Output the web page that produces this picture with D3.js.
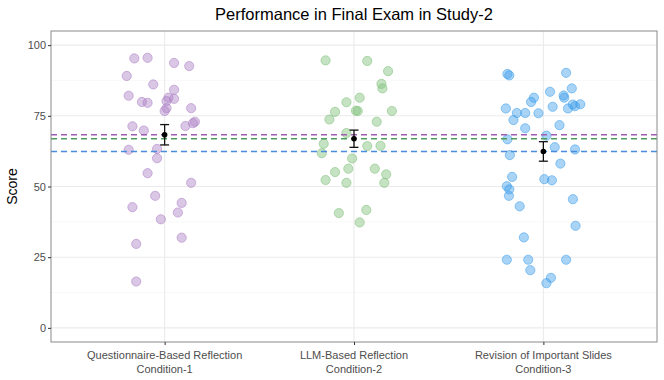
<!DOCTYPE html>
<html>
<head>
<meta charset="utf-8">
<script src="https://cdn.jsdelivr.net/npm/d3@7"></script>
<style>
  body { margin: 0; background: #fff; }
  svg { font-family: "Liberation Sans", Arial, sans-serif; }
</style>
</head>
<body>
<svg id="chart" width="664" height="380"></svg>
<script>
const conditions = ['Questionnaire-Based Reflection', 'LLM-Based Reflection', 'Revision of Important Slides'];
const conditionTags = ['Condition-1', 'Condition-2', 'Condition-3'];

// scores, with each point's horizontal jitter (in category steps)
const scores1 = [95.3, 95.5, 93.7, 92.6, 89.1, 86.1, 84.2, 82.1, 79.9, 79.6, 81.4, 81.0, 80.2, 77.7, 76.7, 77.7, 71.3,
  69.8, 71.4, 72.4, 72.9, 63.0, 63.3, 60.0, 54.7, 51.3, 46.7, 42.7, 44.2, 40.8, 38.4, 31.9, 29.7, 16.4];
const jitter1 = [-0.16, -0.09, 0.05, 0.13, -0.20, -0.06, 0.05, -0.19, -0.12, -0.09, 0.02, 0.05, 0.01, 0.01, 0.0, 0.14, -0.17,
  -0.11, 0.11, 0.15, 0.16, -0.19, -0.04, -0.04, -0.09, 0.14, -0.05, -0.17, 0.09, 0.07, -0.02, 0.09, -0.15, -0.15];

const scores2 = [94.6, 94.4, 90.8, 86.3, 84.7, 81.4, 79.8, 76.4, 76.8, 76.7, 76.7, 73.7, 72.9, 68.9, 65.1, 61.8, 64.3,
  64.4, 59.9, 56.3, 56.3, 55.1, 54.3, 52.3, 51.3, 51.3, 40.6, 41.7, 37.3];
const jitter2 = [-0.15, 0.07, 0.18, 0.145, 0.15, 0.03, -0.04, -0.10, 0.01, 0.02, 0.20, -0.13, 0.12, -0.04, -0.16, -0.17, 0.07,
  0.14, -0.01, -0.03, 0.11, -0.10, 0.17, -0.15, -0.04, 0.16, -0.08, 0.065, 0.03];

const scores3 = [89.8, 89.3, 90.2, 83.5, 84.7, 81.4, 79.9, 82.2, 81.4, 77.6, 76.0, 76.0, 75.9, 78.2, 77.6, 79.0, 78.4,
  79.1, 73.5, 71.7, 70.6, 68.0, 66.7, 63.9, 63.1, 61.1, 58.1, 53.4, 52.6, 52.2, 50.1, 49.0, 46.7, 43.0, 45.5, 36.1,
  32.0, 24.1, 24.1, 24.1, 20.4, 17.7, 15.8];
const jitter3 = [-0.19, -0.18, 0.12, 0.035, 0.15, -0.05, -0.065, 0.107, 0.11, -0.198, -0.14, -0.096, -0.026, 0.049, 0.13, 0.155, 0.167,
  0.195, -0.158, 0.085, -0.096, 0.016, -0.19, 0.06, 0.167, -0.177, 0.09, -0.165, 0.005, 0.045, -0.193, -0.18, -0.182, -0.125, 0.156, 0.17,
  -0.103, -0.193, -0.08, 0.12, -0.069, 0.04, 0.016];

const means = [68.3, 66.9, 62.4];
const stdErrors = [3.6, 3.05, 3.45];
const yTicks = [0, 25, 50, 75, 100];
const yMinor = [12.5, 37.5, 62.5, 87.5];

const pointColors = ['#ad81c5', '#7fc17b', '#419feb'];
const lineColors = ['#a15db3', '#4f9d5d', '#4a8ddc'];

const groups = [
  { scores: scores1, jitter: jitter1 },
  { scores: scores2, jitter: jitter2 },
  { scores: scores3, jitter: jitter3 }
];

const margin = { top: 31, right: 7, bottom: 38, left: 51 };
const width = 664, height = 380;
const svg = d3.select('#chart');

const x = d3.scalePoint().domain(conditions).range([margin.left, width - margin.right]).padding(0.6);
const y = d3.scaleLinear().domain([-5, 105]).range([height - margin.bottom, margin.top]);

// grid
const grid = svg.append('g');
grid.selectAll('.minor').data(yMinor).join('line')
  .attr('x1', margin.left).attr('x2', width - margin.right)
  .attr('y1', d => y(d)).attr('y2', d => y(d))
  .attr('stroke', '#f4f4f4').attr('stroke-width', 0.6);
grid.selectAll('.major').data(yTicks).join('line')
  .attr('x1', margin.left).attr('x2', width - margin.right)
  .attr('y1', d => y(d)).attr('y2', d => y(d))
  .attr('stroke', '#ebebeb').attr('stroke-width', 1.1);
grid.selectAll('.vmajor').data(conditions).join('line')
  .attr('x1', d => x(d)).attr('x2', d => x(d))
  .attr('y1', margin.top).attr('y2', height - margin.bottom)
  .attr('stroke', '#ebebeb').attr('stroke-width', 1.1);

// jittered points
groups.forEach((g, i) => {
  svg.append('g').selectAll('circle')
    .data(g.scores)
    .join('circle')
    .attr('cx', (d, j) => x(conditions[i]) + g.jitter[j] * x.step())
    .attr('cy', d => y(d))
    .attr('r', 4.6)
    .attr('fill', pointColors[i])
    .attr('fill-opacity', 0.45)
    .attr('stroke', pointColors[i])
    .attr('stroke-opacity', 0.7)
    .attr('stroke-width', 0.8);
});

// mean lines
svg.append('g').selectAll('line')
  .data(means)
  .join('line')
  .attr('x1', margin.left).attr('x2', width - margin.right)
  .attr('y1', d => y(d)).attr('y2', d => y(d))
  .attr('stroke', (d, i) => lineColors[i])
  .attr('stroke-width', 1.5)
  .attr('stroke-dasharray', '6,4');

// error bars
const eb = svg.append('g').attr('stroke', '#111').attr('stroke-width', 1.3);
means.forEach((m, i) => {
  const cx = x(conditions[i]);
  const top = y(m + stdErrors[i]), bot = y(m - stdErrors[i]);
  eb.append('line').attr('x1', cx).attr('x2', cx).attr('y1', top).attr('y2', bot);
  eb.append('line').attr('x1', cx - 4.5).attr('x2', cx + 4.5).attr('y1', top).attr('y2', top);
  eb.append('line').attr('x1', cx - 4.5).attr('x2', cx + 4.5).attr('y1', bot).attr('y2', bot);
});
svg.append('g').selectAll('circle')
  .data(means)
  .join('circle')
  .attr('cx', (d, i) => x(conditions[i]))
  .attr('cy', d => y(d))
  .attr('r', 2.8)
  .attr('fill', '#000');

// panel border
svg.append('rect')
  .attr('x', margin.left).attr('y', margin.top)
  .attr('width', width - margin.left - margin.right)
  .attr('height', height - margin.top - margin.bottom)
  .attr('fill', 'none').attr('stroke', '#8a8a8a').attr('stroke-width', 1);

// axes
const yAxis = svg.append('g')
  .attr('transform', `translate(${margin.left},0)`)
  .call(d3.axisLeft(y).tickValues(yTicks).tickSize(3).tickPadding(2));
yAxis.select('.domain').remove();
yAxis.selectAll('.tick line').attr('stroke', '#333');
yAxis.selectAll('.tick text').attr('fill', '#4d4d4d').style('font-size', '11px');

const xAxis = svg.append('g')
  .attr('transform', `translate(0,${height - margin.bottom})`)
  .call(d3.axisBottom(x).tickSize(3).tickFormat(''));
xAxis.select('.domain').remove();
xAxis.selectAll('.tick line').attr('stroke', '#333');

const xLabels = svg.append('g').attr('fill', '#4d4d4d').style('font-size', '11px').attr('text-anchor', 'middle');
conditions.forEach((c, i) => {
  xLabels.append('text').attr('x', x(c)).attr('y', 359).text(c);
  xLabels.append('text').attr('x', x(c)).attr('y', 373).text(conditionTags[i]);
});

// titles
svg.append('text')
  .attr('x', (margin.left + width - margin.right) / 2)
  .attr('y', 19.5)
  .attr('text-anchor', 'middle')
  .style('font-size', '16.5px')
  .attr('fill', '#000')
  .text('Performance in Final Exam in Study-2');

svg.append('text')
  .attr('transform', `translate(17,${y(50)}) rotate(-90)`)
  .attr('text-anchor', 'middle')
  .style('font-size', '14px')
  .attr('fill', '#000')
  .text('Score');
</script>
</body>
</html>
